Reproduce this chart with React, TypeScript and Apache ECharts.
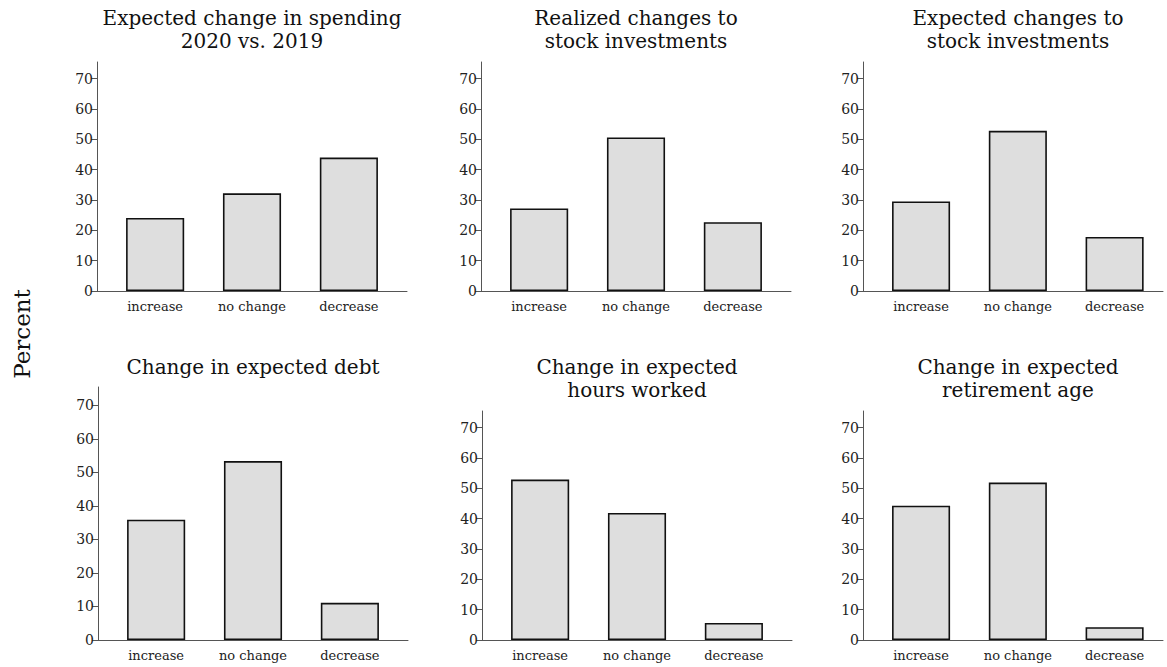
import React, { useEffect, useRef } from "react";
import * as echarts from "echarts";

const categories = ["increase", "no change", "decrease"];
const titles = [
  "Expected change in spending\n2020 vs. 2019",
  "Realized changes to\nstock investments",
  "Expected changes to\nstock investments",
  "Change in expected debt",
  "Change in expected\nhours worked",
  "Change in expected\nretirement age",
];
const spendingValues = [24.1, 32.2, 44.0];
const realizedStockValues = [27.2, 50.6, 22.7];
const expectedStockValues = [29.5, 52.8, 17.8];
const debtValues = [35.9, 53.4, 11.1];
const hoursValues = [52.9, 41.9, 5.6];
const retirementValues = [44.3, 51.9, 4.2];
const yTicks = [0, 10, 20, 30, 40, 50, 60, 70];
const yMax = 75.5;

const panelValues = [
  spendingValues,
  realizedStockValues,
  expectedStockValues,
  debtValues,
  hoursValues,
  retirementValues,
];

// layout: [left, top, width, height, xMax]
const layout = [
  [97, 62, 310, 229, 2.6],
  [481, 62, 310, 229, 2.6],
  [863, 62, 300, 229, 2.5],
  [98, 387, 310, 253, 2.6],
  [482, 411, 310, 229, 2.6],
  [863, 411, 300, 229, 2.5],
];
const titleTops = [6, 6, 6, 355, 355, 355];

const FONT = "DejaVu Serif";

export default function App() {
  const ref = useRef<HTMLDivElement>(null);
  useEffect(() => {
    if (!ref.current) return;
    const chart = echarts.init(ref.current, null, { renderer: "svg" });
    const grids: any[] = [];
    const xAxes: any[] = [];
    const yAxes: any[] = [];
    const series: any[] = [];
    const titleTexts: any[] = [];
    panelValues.forEach((vals, i) => {
      const [left, top, width, height, xMax] = layout[i];
      grids.push({ left, top, width, height, containLabel: false });
      xAxes.push({
        type: "value",
        gridIndex: i,
        min: -0.6,
        max: xMax,
        splitLine: { show: false },
        axisLine: { show: true, onZero: false, lineStyle: { color: "#555", width: 1 } },
        axisTick: { show: false },
        axisLabel: {
          customValues: [0, 1, 2],
          formatter: (v: number) => categories[Math.round(v)] ?? "",
          fontFamily: FONT,
          fontSize: 13,
          color: "#222",
          margin: 9,
        },
      });
      yAxes.push({
        type: "value",
        gridIndex: i,
        min: 0,
        max: yMax,
        splitLine: { show: false },
        axisLine: { show: true, onZero: false, lineStyle: { color: "#555", width: 1 } },
        axisTick: { show: true, length: 6, customValues: yTicks, lineStyle: { color: "#555" } },
        axisLabel: {
          customValues: yTicks,
          fontFamily: FONT,
          fontSize: 14,
          color: "#222",
          margin: 4,
        },
      });
      const xSpan = (xMax as number) + 0.6;
      series.push({
        type: "bar",
        xAxisIndex: i,
        yAxisIndex: i,
        barWidth: ((width as number) / xSpan) * 0.6,
        data: vals.map((v, k) => [k, v]),
        itemStyle: { color: "#dedede", borderColor: "#111", borderWidth: 1.6 },
        silent: true,
      });
      titleTexts.push({
        type: "text",
        x: (left as number) + 155,
        y: titleTops[i],
        style: {
          text: titles[i],
          fontFamily: FONT,
          fontSize: 20,
          fontWeight: "normal",
          fill: "#111",
          lineHeight: 23.5,
          textAlign: "center",
          textVerticalAlign: "top",
        },
      });
    });
    chart.setOption({
      animation: false,
      backgroundColor: "#ffffff",
      grid: grids,
      xAxis: xAxes,
      yAxis: yAxes,
      series,
      graphic: [
        ...titleTexts,
        {
          type: "text",
          x: 22,
          y: 334,
          rotation: Math.PI / 2,
          style: {
            text: "Percent",
            fontFamily: FONT,
            fontSize: 23,
            fill: "#111",
            textAlign: "center",
            textVerticalAlign: "middle",
          },
        },
      ],
    });
    return () => chart.dispose();
  }, []);
  return (
    <div
      ref={ref}
      style={{ position: "fixed", left: 0, top: 0, width: 1167, height: 667, background: "#fff" }}
    />
  );
}
